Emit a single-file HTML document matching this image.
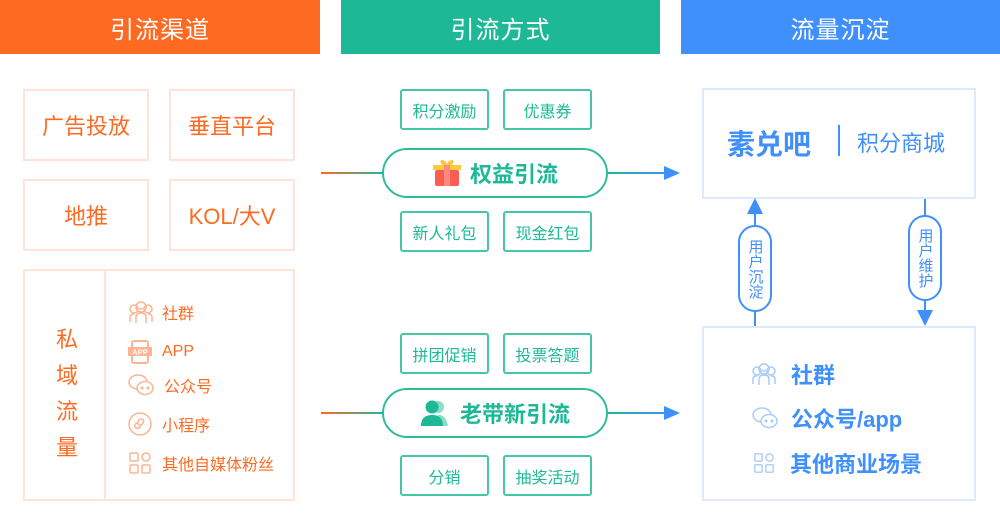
<!DOCTYPE html>
<html><head><meta charset="utf-8"><style>
*{margin:0;padding:0;box-sizing:border-box}
body{width:1000px;height:524px;background:#fff;position:relative;overflow:hidden;font-family:"Liberation Sans","Noto Sans CJK SC",sans-serif}
.a{position:absolute}
.hd{position:absolute;top:0;height:54px;color:#fff;font-size:24px;display:flex;align-items:center;justify-content:center;letter-spacing:1px}
.ob{position:absolute;border:2px solid #ffe3d6;color:#ff6a22;font-size:22px;display:flex;align-items:center;justify-content:center}
.gt{position:absolute;width:89px;height:41px;border:2px solid #45c6a6;border-radius:3px;color:#1db997;font-size:16px;display:flex;align-items:center;justify-content:center}
.pill{position:absolute;left:382px;width:226px;height:50px;border:2px solid #2fbc98;border-radius:25px;color:#1db997;font-size:22px;font-weight:bold;display:flex;align-items:center;justify-content:center;gap:8px}
.bb{position:absolute;border:2px solid #dceafd}
.li{position:absolute;display:flex;align-items:center;color:#ff6a22;font-size:16px}
.ri{position:absolute;display:flex;align-items:center;color:#3f8ffd;font-size:22px;font-weight:bold}
.vp{position:absolute;width:34px;border:2px solid #3f8ffd;border-radius:17px;background:#fff;color:#3f8ffd;font-size:15px;line-height:17px;text-align:center;display:flex;align-items:center;justify-content:center;writing-mode:vertical-rl}
</style></head><body>
<div class="hd" style="left:0;width:320px;background:#ff6a22">引流渠道</div>
<div class="hd" style="left:341px;width:319px;background:#1db997">引流方式</div>
<div class="hd" style="left:681px;width:319px;background:#3f8ffd">流量沉淀</div>

<div class="ob" style="left:23px;top:89px;width:126px;height:72px">广告投放</div>
<div class="ob" style="left:169px;top:89px;width:126px;height:72px">垂直平台</div>
<div class="ob" style="left:23px;top:179px;width:126px;height:72px">地推</div>
<div class="ob" style="left:169px;top:179px;width:126px;height:72px">KOL/大V</div>
<div class="ob" style="left:23px;top:269px;width:272px;height:232px"></div>
<div class="a" style="left:104px;top:269px;width:2px;height:232px;background:#ffe3d6"></div>
<div class="a" style="left:54px;top:322px;width:26px;color:#ff6a22;font-size:22px;line-height:36px;text-align:center">私<br>域<br>流<br>量</div>

<div class="li" style="left:128px;top:300px">
<svg width="26" height="24" viewBox="0 0 26 24" fill="none" stroke="#fdb493" stroke-width="1.5"><circle cx="13" cy="7" r="5"/><path d="M11 8q2 2 4 0"/><circle cx="6" cy="9" r="4"/><circle cx="20" cy="9" r="4"/><path d="M2 22v-5q0-3 4-3M24 22v-5q0-3-4-3M8 23v-6q0-4 5-4t5 4v6"/></svg>
<span style="margin-left:8px">社群</span></div>
<div class="li" style="left:128px;top:340px">
<svg width="24" height="24" viewBox="0 0 24 24"><rect x="4" y="1" width="16" height="22" rx="2" fill="none" stroke="#fdb493" stroke-width="2"/><rect x="0" y="7" width="24" height="9" fill="#fdb493"/><text x="12" y="14.5" font-size="7.5" fill="#fff" text-anchor="middle" font-family="Liberation Sans" font-weight="bold">APP</text></svg>
<span style="margin-left:10px">APP</span></div>
<div class="li" style="left:128px;top:373px">
<svg width="26" height="24" viewBox="0 0 26 24" fill="none" stroke="#fdb493" stroke-width="1.5"><ellipse cx="10" cy="9" rx="9" ry="7"/><ellipse cx="17" cy="15" rx="8" ry="6.5" fill="#fff"/><circle cx="14" cy="15" r=".8" fill="#fdb493"/><circle cx="20" cy="15" r=".8" fill="#fdb493"/></svg>
<span style="margin-left:10px">公众号</span></div>
<div class="li" style="left:128px;top:412px">
<svg width="24" height="24" viewBox="0 0 24 24" fill="none" stroke="#fdb493" stroke-width="1.5"><circle cx="12" cy="12" r="11"/><path d="M9 16q-3 0-2-3t3-1v-2q0-3 4-3q3 1 1 4t-3 2v2q0 2-3 1"/></svg>
<span style="margin-left:10px">小程序</span></div>
<div class="li" style="left:128px;top:451px">
<svg width="24" height="24" viewBox="0 0 24 24" fill="none" stroke="#fdb493" stroke-width="1.5"><rect x="2" y="2" width="8" height="8" rx="1"/><rect x="14" y="2" width="8" height="8" rx="4"/><rect x="2" y="14" width="8" height="8" rx="1"/><rect x="14" y="14" width="8" height="8" rx="1"/></svg>
<span style="margin-left:10px">其他自媒体粉丝</span></div>

<div class="gt" style="left:400px;top:89px">积分激励</div>
<div class="gt" style="left:503px;top:89px">优惠券</div>
<div class="gt" style="left:400px;top:211px">新人礼包</div>
<div class="gt" style="left:503px;top:211px">现金红包</div>
<div class="pill" style="top:148px">
<svg width="30" height="28" viewBox="0 0 30 28"><path d="M9 1q6 0 6 6q0-6 6-6q2 3-3 6h-6q-5-3-3-6z" fill="#f9c63c"/><rect x="1" y="6" width="28" height="5" fill="#fccb3a"/><rect x="3" y="11" width="24" height="16" rx="2" fill="#fd5c52"/><rect x="12" y="6" width="6" height="21" fill="#fd8a80"/></svg><span>权益引流</span></div>

<div class="gt" style="left:400px;top:333px">拼团促销</div>
<div class="gt" style="left:503px;top:333px">投票答题</div>
<div class="gt" style="left:400px;top:455px">分销</div>
<div class="gt" style="left:503px;top:455px">抽奖活动</div>
<div class="pill" style="top:388px">
<svg width="32" height="28" viewBox="0 0 32 28"><circle cx="18" cy="8" r="6" fill="#8ddcc6"/><path d="M12 27q0-11 7-11t9 11z" fill="#8ddcc6"/><circle cx="12" cy="8" r="6.5" fill="#1db997"/><path d="M1 27q0-11 11-11t11 11z" fill="#1db997"/></svg><span>老带新引流</span></div>

<svg class="a" style="left:320px;top:160px" width="362" height="270">
<defs><linearGradient id="g1"><stop offset="0" stop-color="#ff6a22"/><stop offset="1" stop-color="#1db997"/></linearGradient><linearGradient id="g2"><stop offset="0" stop-color="#1db997"/><stop offset="1" stop-color="#3f8ffd"/></linearGradient></defs>
<rect x="1" y="12" width="62" height="2" fill="url(#g1)"/><rect x="288" y="12" width="60" height="2" fill="url(#g2)"/><path d="M344 6l16 7-16 7z" fill="#3f8ffd"/>
<rect x="1" y="252" width="62" height="2" fill="url(#g1)"/><rect x="288" y="252" width="60" height="2" fill="url(#g2)"/><path d="M344 246l16 7-16 7z" fill="#3f8ffd"/>
</svg>

<div class="bb" style="left:702px;top:88px;width:274px;height:111px"></div>
<div class="a" style="left:727px;top:123px;color:#3f8ffd;font-size:28px;font-weight:bold">素兑吧</div>
<div class="a" style="left:838px;top:125px;width:2px;height:31px;background:#3f8ffd"></div>
<div class="a" style="left:857px;top:126px;color:#3f8ffd;font-size:22px">积分商城</div>

<div class="a" style="left:754px;top:212px;width:2px;height:114px;background:#3f8ffd"></div>
<svg class="a" style="left:746px;top:198px" width="18" height="16"><path d="M9 0l8 16H1z" fill="#3f8ffd"/></svg>
<div class="vp" style="left:738px;top:225px;height:87px">用户沉淀</div>
<div class="a" style="left:924px;top:199px;width:2px;height:114px;background:#3f8ffd"></div>
<svg class="a" style="left:916px;top:310px" width="18" height="16"><path d="M1 0h16L9 16z" fill="#3f8ffd"/></svg>
<div class="vp" style="left:908px;top:215px;height:86px">用户维护</div>

<div class="bb" style="left:702px;top:326px;width:274px;height:175px"></div>
<div class="ri" style="left:751px;top:358px">
<svg width="26" height="24" viewBox="0 0 26 24" fill="none" stroke="#a9cbfb" stroke-width="1.5"><circle cx="13" cy="7" r="5"/><path d="M11 8q2 2 4 0"/><circle cx="6" cy="9" r="4"/><circle cx="20" cy="9" r="4"/><path d="M2 22v-5q0-3 4-3M24 22v-5q0-3-4-3M8 23v-6q0-4 5-4t5 4v6"/></svg>
<span style="margin-left:14px">社群</span></div>
<div class="ri" style="left:752px;top:402px">
<svg width="26" height="24" viewBox="0 0 26 24" fill="none" stroke="#a9cbfb" stroke-width="1.5"><ellipse cx="10" cy="9" rx="9" ry="7"/><ellipse cx="17" cy="15" rx="8" ry="6.5" fill="#fff"/><circle cx="14" cy="15" r=".8" fill="#a9cbfb"/><circle cx="20" cy="15" r=".8" fill="#a9cbfb"/></svg>
<span style="margin-left:13px">公众号/app</span></div>
<div class="ri" style="left:753px;top:447px">
<svg width="22" height="22" viewBox="0 0 24 24" fill="none" stroke="#a9cbfb" stroke-width="1.5"><rect x="2" y="2" width="8" height="8" rx="1"/><rect x="14" y="2" width="8" height="8" rx="4"/><rect x="2" y="14" width="8" height="8" rx="1"/><rect x="14" y="14" width="8" height="8" rx="1"/></svg>
<span style="margin-left:15px">其他商业场景</span></div>
</body></html>
